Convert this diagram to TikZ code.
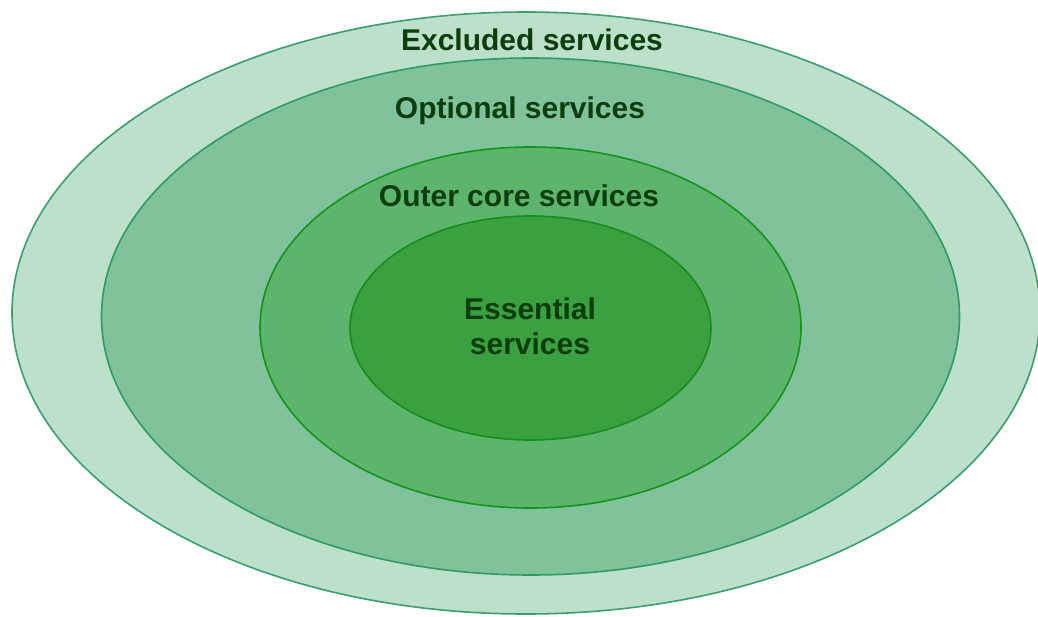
\documentclass[tikz,border=0pt]{standalone}
\usepackage{fontspec}
\setmainfont{Liberation Sans}
\usetikzlibrary{shapes.geometric}
\definecolor{excl}{HTML}{BDE0CB}
\definecolor{exclline}{HTML}{3A9E6E}
\definecolor{opt}{HTML}{80C29C}
\definecolor{optline}{HTML}{2F9A64}
\definecolor{outer}{HTML}{5DB46D}
\definecolor{outerline}{HTML}{14931A}
\definecolor{ess}{HTML}{3AA040}
\definecolor{essline}{HTML}{168C1A}
\definecolor{txt}{HTML}{0C3D0C}
\tikzset{
    ring/.style = {
        draw,
        shape=ellipse,
        inner sep=0pt,
        line width=1.6pt
    },
    title/.style = {
        text=txt,
        font=\fontsize{30}{35}\selectfont\bfseries,
        inner sep=0pt,
        align=center
    },
}

\begin{document}
\begin{tikzpicture}[x=1pt,y=-1pt]
    \useasboundingbox (0,0) rectangle (1038,616);
    \node[ring, fill=excl, draw=exclline, minimum width=1028pt, minimum height=602pt] (excluded) at (526,313) {};
    \node[ring, fill=opt, draw=optline, minimum width=858pt, minimum height=517pt] (optional) at (530.5,316.5) {};
    \node[ring, fill=outer, draw=outerline, minimum width=541pt, minimum height=361pt] (outercore) at (530.5,327.5) {};
    \node[ring, fill=ess, draw=essline, minimum width=361pt, minimum height=224pt] (essential) at (530.5,328) {};

    \node[title, anchor=base] (excludedtext) at (532,50) {Excluded services};
    \node[title, anchor=base] (optionaltext) at (520,118) {Optional services};
    \node[title, anchor=base] (outercoretext) at (519,206) {Outer core services};
    \node[title] (essentialtext) at (530,326) {Essential\\services};
\end{tikzpicture}
\end{document}
